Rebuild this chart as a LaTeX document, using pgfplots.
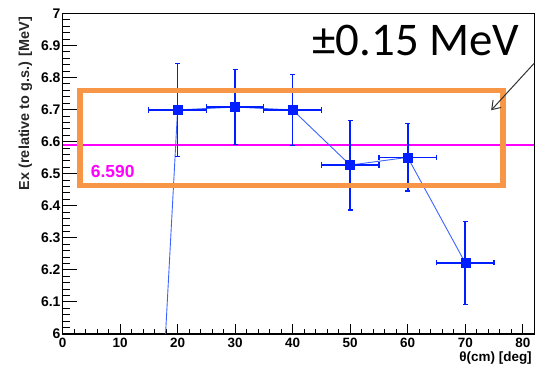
\documentclass[border=0pt]{standalone}
\usepackage{fontspec}
\setmainfont{Liberation Sans}
\newfontfamily\calibri{Carlito}
\newfontfamily\lsbold{Liberation Sans Bold}
\usepackage{pgfplots}
\pgfplotsset{compat=1.18}
\usetikzlibrary{arrows.meta}
\definecolor{rootblue}{RGB}{0,30,255}
\definecolor{lineblue}{RGB}{60,100,255}
\definecolor{pptorange}{RGB}{247,150,70}
\definecolor{rootmag}{RGB}{255,0,255}
\begin{document}
\begin{tikzpicture}
\begin{axis}[
  scale only axis, width=471.8bp, height=320.5bp,
  xmin=0, xmax=82, ymin=6, ymax=7,
  xtick={0,10,20,30,40,50,60,70,80},
  xticklabels={0,10,20,30,40,50,60,70,80},
  ytick={6,6.1,6.2,6.3,6.4,6.5,6.6,6.7,6.8,6.9,7},
  yticklabels={6,6.1,6.2,6.3,6.4,6.5,6.6,6.7,6.8,6.9,7},
  minor x tick num=4, minor y tick num=4,
  tick pos=left, tick align=inside,
  axis line style={line width=1.2bp, black},
  tick style={line width=1bp, black},
  x tick style={/pgfplots/major tick length=10bp, /pgfplots/minor tick length=5bp},
  y tick style={/pgfplots/major tick length=14bp, /pgfplots/minor tick length=7bp},
  x tick label style={font=\lsbold\fontsize{13.5}{15}\selectfont, yshift=-1bp},
  y tick label style={font=\lsbold\fontsize{14}{16}\selectfont, xshift=1.5bp},
  xlabel={θ(cm) [deg]},
  xlabel style={at={(axis description cs:1.002,-0.0765)}, anchor=east, font=\bfseries\fontsize{13.5}{15}\selectfont},
  ylabel={Ex (relative to g.s.) [MeV]},
  ylabel style={at={(axis description cs:-0.0785,1)}, anchor=east, font=\bfseries\fontsize{14.5}{16}\selectfont, color=black!85},
  clip mode=individual,
]
% reference line
\addplot[rootmag, line width=1.4bp] coordinates {(0,6.59) (82,6.59)};
% connecting line of the graph
\addplot[lineblue, line width=0.9bp] coordinates {
  (0,0) (20,6.699) (30,6.708) (40,6.699) (50,6.527) (60,6.551) (70,6.222)
};
% points with errors
\addplot[only marks, mark=square*, mark size=4.5bp, color=rootblue,
  error bars/.cd, x dir=both, x explicit, y dir=both, y explicit,
  error bar style={line width=1.6bp, rootblue},
  error mark options={rotate=90, rootblue, mark size=2.6bp, line width=1.2bp}]
  coordinates {
  (20,6.699) +- (5,0.145)
  (30,6.708) +- (5,0.117)
  (40,6.699) +- (5,0.110)
  (50,6.527) +- (5,0.140)
  (60,6.551) +- (5,0.105)
  (70,6.222) +- (5,0.130)
};
\draw[pptorange, line width=5.5bp] (axis cs:3.0,6.464) rectangle (axis cs:76.6,6.759);
\node[rootmag, font=\bfseries\fontsize{17.5}{18}\selectfont, anchor=base west, inner sep=0] at (axis cs:4.9,6.489) {6.590};
\node[font=\calibri\fontsize{47}{50}\selectfont, anchor=base west, inner sep=0] at (axis cs:43.4,6.870) {±0.15 MeV};
\draw[-{Straight Barb[length=8bp,width=11bp]}, line width=1bp, black!80] (axis cs:82,6.845) -- (axis cs:74.5,6.698);
\end{axis}
\pgfresetboundingbox
\path[use as bounding box] (-62.5bp,-36bp) rectangle (473.5bp,334bp);
\end{tikzpicture}
\end{document}
